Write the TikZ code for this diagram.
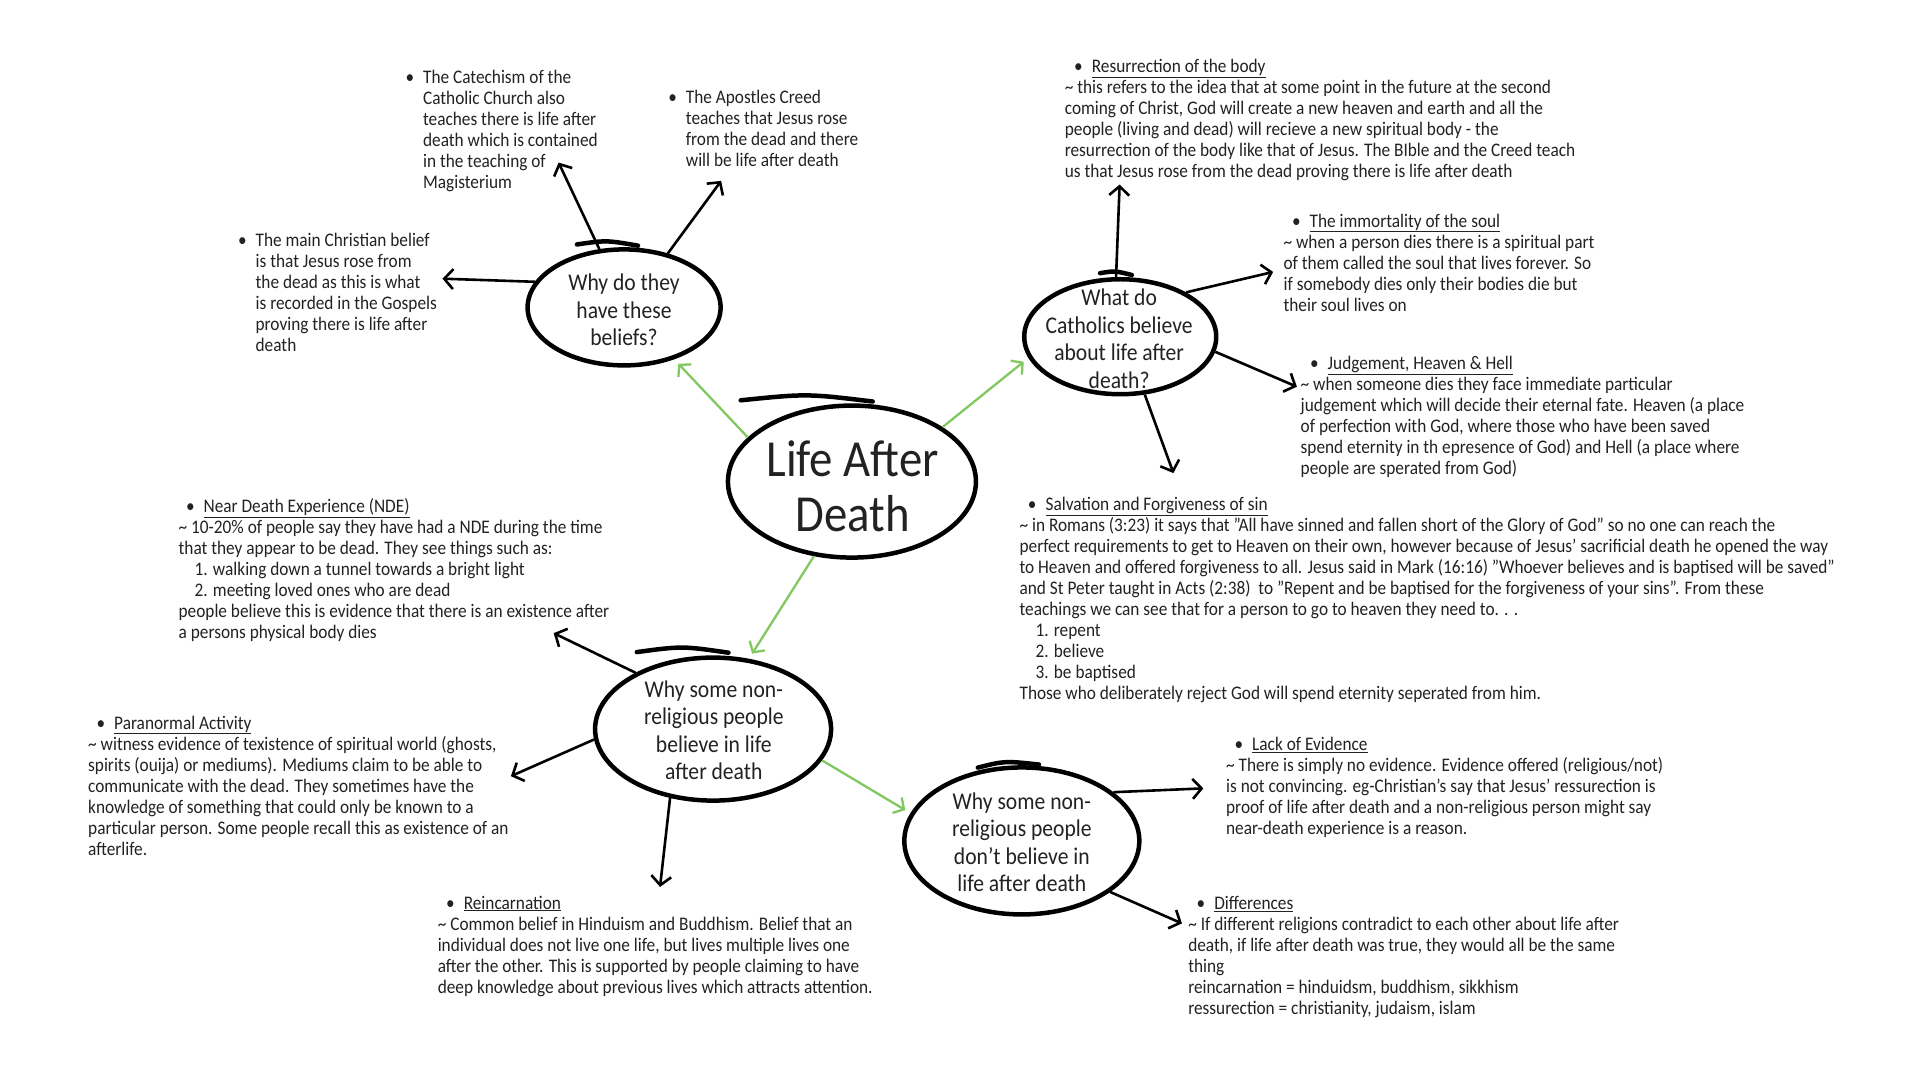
\documentclass[tikz,border=0pt]{standalone}
\usepackage{fontspec}
\setmainfont{Carlito}[FakeStretch=0.9]
\usetikzlibrary{arrows.meta, shapes.geometric}
\definecolor{ink}{HTML}{222222}
\definecolor{leaf}{RGB}{128,200,95}
\newcommand\bulhead[2]{\hspace*{#1}\llap{\textbullet\hspace{9pt}}\underline{#2}}
\tikzset{
  bubble/.style={draw, ellipse, line width=4.5pt, inner sep=0pt},
  pen/.style={line width=4.5pt, line cap=round},
  bubbletxt/.style={align=center, inner sep=0pt, text=ink, font=\fontsize{24}{27.5}\selectfont},
  bigtxt/.style={align=center, inner sep=0pt, text=ink, font=\fontsize{52}{55}\selectfont},
  note/.style={anchor=base west, align=left, inner sep=0pt, text=ink, font=\fontsize{19.2}{21}\selectfont},
  myarrow/.style={-{Straight Barb[length=9pt, width=20pt]}, line width=2.6pt},
  greenarrow/.style={-{Straight Barb[length=8pt, width=18pt]}, line width=2.3pt, leaf, shorten >=6pt}
}
\begin{document}
\begin{tikzpicture}[x=1.2223pt, y=-1.2223pt]
  \useasboundingbox (0,0) rectangle (1570,883.6);

  % Bubbles placed on the image grid
  \node[bubble, minimum width=248pt, minimum height=152pt] (life) at (697,394) {};
  \node[bubble, minimum width=193pt, minimum height=116pt] (why) at (510.6,251.5) {};
  \node[bubble, minimum width=192pt, minimum height=115pt] (catholic) at (916.5,275.5) {};
  \node[bubble, minimum width=236pt, minimum height=143pt] (believe) at (583.4,596.5) {};
  \node[bubble, minimum width=235pt, minimum height=147pt] (disbelieve) at (836,688) {};

  % Pen overshoot at the top of each bubble
  \draw[pen] (606,327.5) .. controls (660,322) .. (714,328.5);
  \draw[pen] (472,200) .. controls (496,196.5) .. (522,201);
  \draw[pen] (900,223.5) .. controls (912,221.5) .. (926,225);
  \draw[pen] (521,533.5) .. controls (558,528.5) .. (596,534);
  \draw[pen] (800,628) .. controls (822,622.5) .. (850,625.5);

  % Bubble texts
  \node[bigtxt] (life-txt) at (697.5,398) {Life After\\Death};
  \node[bubbletxt] (why-txt) at (510.5,253.6) {Why do they\\have these\\beliefs?};
  \node[bubbletxt] (catholic-txt) at (915.6,277) {What do\\Catholics believe\\about life after\\death?};
  \node[bubbletxt] (believe-txt) at (584,597.3) {Why some non-\\religious people\\believe in life\\after death};
  \node[bubbletxt] (disbelieve-txt) at (836,688.9) {Why some non-\\religious people\\don't believe in\\life after death};

  % Why do they have these beliefs?
  \node[note] (catechism) at (346,154.5) {\llap{\textbullet\hspace{9pt}}The Catechism of the\\Catholic Church also\\teaches there is life after\\death which is contained\\in the teaching of\\Magisterium};
  \node[note] (apostles) at (561,136.5) {\llap{\textbullet\hspace{9pt}}The Apostles Creed\\teaches that Jesus rose\\from the dead and there\\will be life after death};
  \node[note] (mainbelief) at (209,287.5) {\llap{\textbullet\hspace{9pt}}The main Christian belief\\is that Jesus rose from\\the dead as this is what\\is recorded in the Gospels\\proving there is life after\\death};

  % What do Catholics believe?
  \node[note] (resurrection) at (871,145) {\bulhead{27pt}{Resurrection of the body}\\
    \textasciitilde{} this refers to the idea that at some point in the future at the second\\
    coming of Christ, God will create a new heaven and earth and all the\\
    people (living and dead) will recieve a new spiritual body - the\\
    resurrection of the body like that of Jesus. The BIble and the Creed teach\\
    us that Jesus rose from the dead proving there is life after death};
  \node[note] (immortality) at (1050,254.5) {\bulhead{26pt}{The immortality of the soul}\\
    \textasciitilde{} when a person dies there is a spiritual part\\
    of them called the soul that lives forever. So\\
    if somebody dies only their bodies die but\\
    their soul lives on};
  \node[note] (judgement) at (1064,388.5) {\bulhead{27pt}{Judgement, Heaven \& Hell}\\
    \textasciitilde{} when someone dies they face immediate particular\\
    judgement which will decide their eternal fate. Heaven (a place\\
    of perfection with God, where those who have been saved\\
    spend eternity in th epresence of God) and Hell (a place where\\
    people are sperated from God)};
  \node[note] (salvation) at (834,572.5) {\bulhead{26pt}{Salvation and Forgiveness of sin}\\
    \textasciitilde{} in Romans (3:23) it says that "All have sinned and fallen short of the Glory of God" so no one can reach the\\
    perfect requirements to get to Heaven on their own, however because of Jesus' sacrificial death he opened the way\\
    to Heaven and offered forgiveness to all. Jesus said in Mark (16:16) "Whoever believes and is baptised will be saved"\\
    and St Peter taught in Acts (2:38) \ to "Repent and be baptised for the forgiveness of your sins". From these\\
    teachings we can see that for a person to go to heaven they need to. . .\\
    \hspace*{16pt}1. repent\\
    \hspace*{16pt}2. believe\\
    \hspace*{16pt}3. be baptised\\
    Those who deliberately reject God will spend eternity seperated from him.};

  % Why some believe
  \node[note] (nde) at (146,522.5) {\bulhead{25pt}{Near Death Experience (NDE)}\\
    \textasciitilde{} 10-20\% of people say they have had a NDE during the time\\
    that they appear to be dead. They see things such as:\\
    \hspace*{16pt}1. walking down a tunnel towards a bright light\\
    \hspace*{16pt}2. meeting loved ones who are dead\\
    people believe this is evidence that there is an existence after\\
    a persons physical body dies};
  \node[note] (paranormal) at (72,699.5) {\bulhead{26pt}{Paranormal Activity}\\
    \textasciitilde{} witness evidence of texistence of spiritual world (ghosts,\\
    spirits (ouija) or mediums). Mediums claim to be able to\\
    communicate with the dead. They sometimes have the\\
    knowledge of something that could only be known to a\\
    particular person. Some people recall this as existence of an\\
    afterlife.};
  \node[note] (reincarnation) at (358,812.5) {\bulhead{26pt}{Reincarnation}\\
    \textasciitilde{} Common belief in Hinduism and Buddhism. Belief that an\\
    individual does not live one life, but lives multiple lives one\\
    after the other. This is supported by people claiming to have\\
    deep knowledge about previous lives which attracts attention.};

  % Why some don't believe
  \node[note] (lackev) at (1003,683) {\bulhead{26pt}{Lack of Evidence}\\
    \textasciitilde{} There is simply no evidence. Evidence offered (religious/not)\\
    is not convincing. eg-Christian's say that Jesus' ressurection is\\
    proof of life after death and a non-religious person might say\\
    near-death experience is a reason.};
  \node[note] (differences) at (972,830) {\bulhead{26pt}{Differences}\\
    \textasciitilde{} If different religions contradict to each other about life after\\
    death, if life after death was true, they would all be the same\\
    thing\\
    reincarnation = hinduidsm, buddhism, sikkhism\\
    ressurection = christianity, judaism, islam};

  % Arrow tips next to the notes
  \coordinate (catechism-tip) at (457,133);
  \coordinate (apostles-tip) at (590,148);
  \coordinate (mainbelief-tip) at (362,228);
  \coordinate (resurrection-tip) at (916,151);
  \coordinate (immortality-tip) at (1041.6,222.5);
  \coordinate (judgement-tip) at (1061,316.4);
  \coordinate (salvation-tip) at (960,387);
  \coordinate (nde-tip) at (453,518);
  \coordinate (paranormal-tip) at (418,635);
  \coordinate (reincarnation-tip) at (540,725.6);
  \coordinate (lackev-tip) at (984.5,645);
  \coordinate (differences-tip) at (967,755.5);

  % Green links from the centre
  \draw[greenarrow] (life.157) -- (why.-46);
  \draw[greenarrow] (life.31) -- (catholic.-167);
  \draw[greenarrow] (life.-117) -- (believe.63);
  \draw[greenarrow] (believe.-16) -- (disbelieve.166);

  % Black links to the notes
  \draw[myarrow] (why.113) -- (catechism-tip);
  \draw[myarrow] (why.51) -- (apostles-tip);
  \draw[myarrow] (why.164) -- (mainbelief-tip);
  \draw[myarrow] (catholic.94) -- (resurrection-tip);
  \draw[myarrow] (catholic.34) -- (immortality-tip);
  \draw[myarrow] (catholic.-9) -- (judgement-tip);
  \draw[myarrow] (catholic.-67) -- (salvation-tip);
  \draw[myarrow] (believe.144) -- (nde-tip);
  \draw[myarrow] (believe.185) -- (paranormal-tip);
  \draw[myarrow] (believe.-122) -- (reincarnation-tip);
  \draw[myarrow] (disbelieve.28) -- (lackev-tip);
  \draw[myarrow] (disbelieve.-30) -- (differences-tip);
\end{tikzpicture}
\end{document}
